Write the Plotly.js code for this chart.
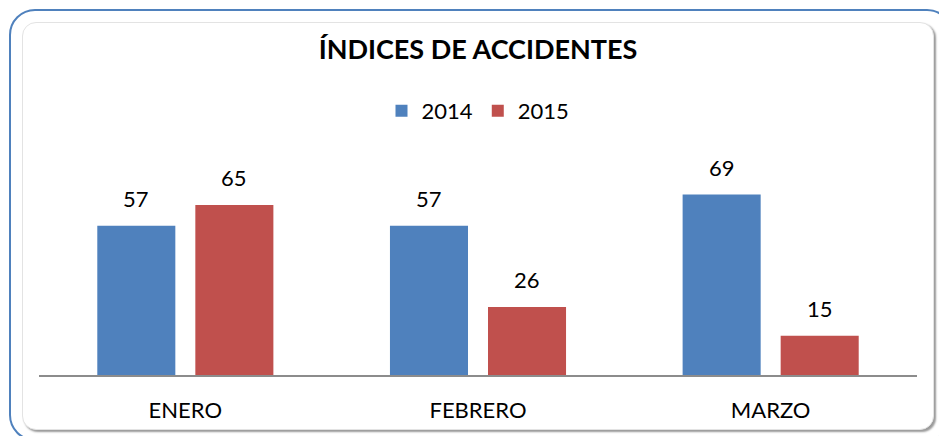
<!DOCTYPE html>
<html>
<head>
<meta charset="utf-8">
<script src="https://cdn.plot.ly/plotly-3.0.1.min.js"></script>
<style>
  html, body { margin:0; padding:0; background:#fff; }
  #wrap { position:relative; width:939px; height:436px; overflow:hidden; background:#fff; }
  #outer { position:absolute; left:9px; top:9px; width:940px; height:428px; border:2.5px solid #4f81bd; border-radius:26px; }
  #inner { position:absolute; left:22px; top:22px; width:910px; height:406px; border:1px solid #e3e3e3; border-radius:14px; box-shadow:2px 2px 2px #9a9a9a; background:#fff; }
  #chart { position:absolute; left:0; top:0; width:939px; height:436px; }
</style>
</head>
<body>
<div id="wrap">
  <div id="outer"></div>
  <div id="inner"></div>
  <div id="chart"></div>
</div>
<script>
const categories = ["ENERO", "FEBRERO", "MARZO"];
const seriesNames = ["2014", "2015"];
const values2014 = [57, 57, 69];
const values2015 = [65, 26, 15];
const colors = ["#4f81bd", "#c0504d"];

const FONT = "Lato, 'Open Sans', sans-serif";

const traces = [
  { type:"bar", name:seriesNames[0], x:categories, y:values2014, marker:{color:colors[0]}, hoverinfo:"none" },
  { type:"bar", name:seriesNames[1], x:categories, y:values2015, marker:{color:colors[1]}, hoverinfo:"none" }
];

const annotations = [];
[values2014, values2015].forEach((vals, si) => {
  vals.forEach((v, i) => {
    annotations.push({
      x: categories[i], y: v, xref:"x", yref:"y",
      text: String(v), showarrow:false,
      xshift: si === 0 ? -49 : 49, yshift: 27, yanchor:"middle",
      font:{family:FONT, size:22, color:"#000"}
    });
  });
});

const layout = {
  width:939, height:436,
  paper_bgcolor:"rgba(0,0,0,0)", plot_bgcolor:"rgba(0,0,0,0)",
  margin:{l:39, r:22, t:150, b:61, pad:0},
  title:{text:"<b>ÍNDICES DE ACCIDENTES</b>", x:0.5, xref:"paper", y:1 - 50/436, yref:"container", yanchor:"middle",
         font:{family:FONT, size:27, color:"#000"}},
  showlegend:true,
  legend:{orientation:"h", x:0.5, xanchor:"center", xref:"paper", y:1 - 111/436, yref:"container", yanchor:"middle",
          font:{family:FONT, size:22, color:"#000"}, itemwidth:30, traceorder:"normal"},
  barmode:"group", bargap:0.33, bargroupgap:0.204,
  xaxis:{showline:true, linecolor:"#8c8c8c", linewidth:2, ticks:"", showgrid:false, zeroline:false,
         tickfont:{family:FONT, size:22, color:"#000"}, ticklabelstandoff:15, fixedrange:true},
  yaxis:{range:[0, 86], visible:false, showgrid:false, zeroline:false, fixedrange:true},
  annotations: annotations
};

Plotly.newPlot("chart", traces, layout, {displayModeBar:false, staticPlot:true});
</script>
</body>
</html>
